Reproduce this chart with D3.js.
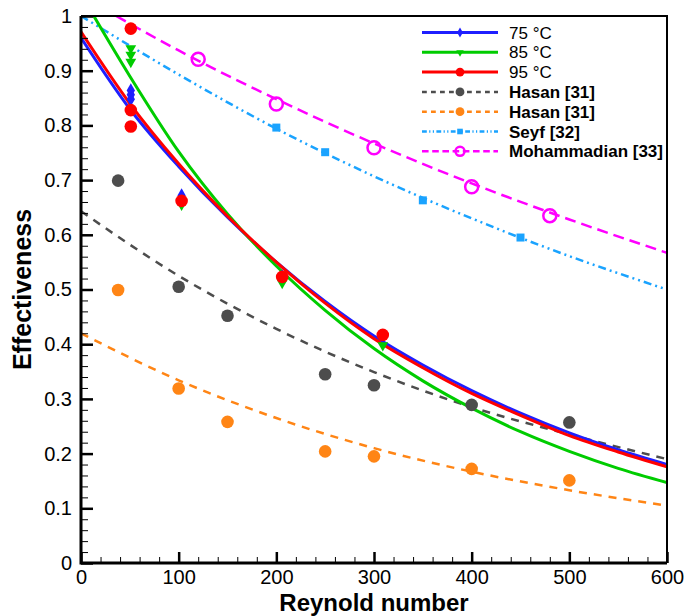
<!DOCTYPE html>
<html>
<head>
<meta charset="utf-8">
<script src="https://cdn.jsdelivr.net/npm/d3@7"></script>
<style>
  body { margin: 0; background: #fff; }
  svg { display: block; font-family: "Liberation Sans", Arial, sans-serif; }
</style>
</head>
<body>
<div id="chart"></div>
<script>
// fitted curves
var fitRe = [0, 50, 100, 150, 200, 250, 300, 350, 400, 450, 500, 550, 600];
var fit75 = [0.96, 0.83, 0.725, 0.632, 0.55, 0.478, 0.415, 0.362, 0.315, 0.274, 0.238, 0.207, 0.18];
var fit85 = [1.04, 0.89, 0.752, 0.638, 0.543, 0.462, 0.392, 0.333, 0.283, 0.24, 0.204, 0.173, 0.147];
var fit95 = [0.971, 0.84, 0.73, 0.634, 0.55, 0.475, 0.41, 0.357, 0.31, 0.27, 0.233, 0.203, 0.176];

var refRe = [0, 100, 200, 300, 400, 500, 600];
var fitHasanA = [0.643, 0.525, 0.428, 0.349, 0.285, 0.235, 0.19];
var fitHasanB = [0.42, 0.334, 0.265, 0.21, 0.167, 0.133, 0.105];
var fitSeyf = [1.0, 0.893, 0.794, 0.707, 0.63, 0.561, 0.5];
var mohRe = [36, 100, 200, 300, 400, 500, 600];
var fitMoh = [1.0, 0.937, 0.848, 0.767, 0.694, 0.628, 0.567];

// measured points
var simRe = [51, 51, 51, 103, 206, 309];
var pts75 = [0.864, 0.856, 0.848, 0.672, 0.524, 0.414];
var pts85 = [0.941, 0.929, 0.916, 0.655, 0.512, 0.398];
var pts95 = [0.977, 0.828, 0.798, 0.662, 0.523, 0.417];

var hasanRe = [38, 100, 150, 250, 300, 400, 500];
var ptsHasanA = [0.699, 0.505, 0.452, 0.345, 0.325, 0.289, 0.257];
var ptsHasanB = [0.499, 0.319, 0.258, 0.204, 0.195, 0.172, 0.151];
var seyfRe = [200, 250, 350, 450];
var ptsSeyf = [0.796, 0.751, 0.663, 0.595];
var mohPtRe = [120, 200, 300, 400, 480];
var ptsMoh = [0.921, 0.839, 0.759, 0.688, 0.635];

var xTicks = [0, 100, 200, 300, 400, 500, 600];
var yTicks = [0, 0.1, 0.2, 0.3, 0.4, 0.5, 0.6, 0.7, 0.8, 0.9, 1];

var width = 686, height = 616;
var pLeft = 81, pRight = 667, pTop = 16, pBottom = 563;

var svg = d3.select("#chart").append("svg").attr("width", width).attr("height", height);
svg.append("rect").attr("width", width).attr("height", height).attr("fill", "#fff");

var x = d3.scaleLinear().domain([0, 600]).range([pLeft, pRight]);
var y = d3.scaleLinear().domain([0, 1]).range([pBottom, pTop]);

svg.append("clipPath").attr("id", "plot")
  .append("rect").attr("x", pLeft).attr("y", pTop).attr("width", pRight - pLeft).attr("height", pBottom - pTop);

//the series, drawn back to front
var series = [
  { name: "Hasan [31]", re: refRe, fit: fitHasanA, pRe: hasanRe, pts: ptsHasanA, color: "#4d4d4d", dash: "8,7", w: 2.5, shape: "circle", bold: true },
  { name: "Hasan [31]", re: refRe, fit: fitHasanB, pRe: hasanRe, pts: ptsHasanB, color: "#ff8515", dash: "8,7", w: 2.5, shape: "circle", bold: true },
  { name: "Seyf [32]", re: refRe, fit: fitSeyf, pRe: seyfRe, pts: ptsSeyf, color: "#1aa3ff", dash: "8,4,2,4,2,4", w: 2.5, shape: "square", bold: true },
  { name: "Mohammadian [33]", re: mohRe, fit: fitMoh, pRe: mohPtRe, pts: ptsMoh, color: "#ff00ff", dash: "11,6", w: 2.5, shape: "open", bold: true },
  { name: "75 °C", re: fitRe, fit: fit75, pRe: simRe, pts: pts75, color: "#1f1fff", dash: null, w: 3, shape: "diamond", bold: false },
  { name: "85 °C", re: fitRe, fit: fit85, pRe: simRe, pts: pts85, color: "#00cc00", dash: null, w: 3, shape: "triangle", bold: false },
  { name: "95 °C", re: fitRe, fit: fit95, pRe: simRe, pts: pts95, color: "#ff0000", dash: null, w: 3, shape: "circle", bold: false }
];

var line = d3.line()
  .x(function(d) { return x(d[0]); })
  .y(function(d) { return y(d[1]); })
  .curve(d3.curveMonotoneX);

function drawMarker(g, shape, color, big) {
  var k = big ? 1 : 0.7;
  if (shape == "open") {
    g.append("circle").attr("r", 6.5 * k).attr("fill", "none").attr("stroke", color).attr("stroke-width", 2.5);
  } else if (shape == "circle") {
    g.append("circle").attr("r", 6.3 * k).attr("fill", color);
  } else if (shape == "square") {
    g.append("path").attr("d", d3.symbol(d3.symbolSquare, 64 * k * k)()).attr("fill", color);
  } else if (shape == "diamond") {
    g.append("path").attr("d", d3.symbol(d3.symbolDiamond, 60 * k * k)()).attr("fill", color);
  } else if (shape == "triangle") {
    g.append("path").attr("d", d3.symbol(d3.symbolTriangle, 50 * k * k)()).attr("transform", "rotate(180)").attr("fill", color);
  }
}

var plot = svg.append("g").attr("clip-path", "url(#plot)");

// reference lines first, then simulation curves
series.forEach(function(s) {
  var pts = s.re.map(function(r, i) { return [r, s.fit[i]]; });
  plot.append("path")
    .attr("d", line(pts))
    .attr("fill", "none")
    .attr("stroke", s.color)
    .attr("stroke-width", s.w)
    .attr("stroke-dasharray", s.dash);
});

series.forEach(function(s) {
  s.pRe.forEach(function(r, i) {
    var g = svg.append("g").attr("transform", "translate(" + x(r) + "," + y(s.pts[i]) + ")");
    drawMarker(g, s.shape, s.color, true);
  });
});

//axes with inward ticks
var xMinor = d3.range(0, 601, 20);
var yMinor = d3.range(0, 1.001, 0.02);

svg.append("g").attr("transform", "translate(0," + pBottom + ")")
  .call(d3.axisBottom(x).tickValues(xMinor).tickSize(-6).tickFormat(""))
  .call(function(g) { g.select(".domain").remove(); g.selectAll("line").attr("stroke-width", 1); });
svg.append("g").attr("transform", "translate(" + pLeft + ",0)")
  .call(d3.axisLeft(y).tickValues(yMinor).tickSize(-7).tickFormat(""))
  .call(function(g) { g.select(".domain").remove(); g.selectAll("line").attr("stroke-width", 1); });

var xAxis = svg.append("g").attr("transform", "translate(0," + pBottom + ")")
  .call(d3.axisBottom(x).tickValues(xTicks).tickSize(-11).tickPadding(7));
xAxis.select(".domain").remove();
xAxis.selectAll("line").attr("stroke-width", 2.5);
xAxis.selectAll("text").attr("font-size", 20).attr("font-family", "Liberation Sans, Arial, sans-serif").attr("fill", "#000");

var yAxis = svg.append("g").attr("transform", "translate(" + pLeft + ",0)")
  .call(d3.axisLeft(y).tickValues(yTicks).tickSize(-12).tickPadding(9)
    .tickFormat(function(d) { return String(+d.toFixed(1)); }));
yAxis.select(".domain").remove();
yAxis.selectAll("line").attr("stroke-width", 2.5);
yAxis.selectAll("text").attr("font-size", 20).attr("font-family", "Liberation Sans, Arial, sans-serif").attr("fill", "#000");

// frame
svg.append("path")
  .attr("d", "M" + pLeft + "," + pTop + "H" + pRight + "V" + pBottom)
  .attr("fill", "none").attr("stroke", "#000").attr("stroke-width", 2);
svg.append("path")
  .attr("d", "M" + pLeft + "," + pTop + "V" + pBottom + "H" + pRight)
  .attr("fill", "none").attr("stroke", "#000").attr("stroke-width", 3);

svg.append("text")
  .attr("x", (pLeft + pRight) / 2).attr("y", 611)
  .attr("text-anchor", "middle").attr("font-size", 24).attr("font-weight", "bold")
  .text("Reynold number");
svg.append("text")
  .attr("transform", "translate(31," + (pTop + pBottom) / 2 + ") rotate(-90)")
  .attr("text-anchor", "middle").attr("font-size", 25).attr("font-weight", "bold")
  .text("Effectiveness");

// legend
var order = [4, 5, 6, 0, 1, 2, 3];
var legend = svg.append("g");
order.forEach(function(idx, i) {
  var s = series[idx];
  var ly = 32.5 + i * 19.8;
  legend.append("line")
    .attr("x1", 422).attr("x2", 498).attr("y1", ly).attr("y2", ly)
    .attr("stroke", s.color).attr("stroke-width", s.w)
    .attr("stroke-dasharray", s.dash ? s.dash.split(",").map(function(v) { return v * 0.6; }).join(",") : null);
  var g = legend.append("g").attr("transform", "translate(460," + ly + ")");
  drawMarker(g, s.shape, s.color, false);
  legend.append("text")
    .attr("x", 509).attr("y", ly + 6)
    .attr("font-size", 17).attr("font-weight", s.bold ? "bold" : "normal")
    .text(s.name);
});
</script>
</body>
</html>
